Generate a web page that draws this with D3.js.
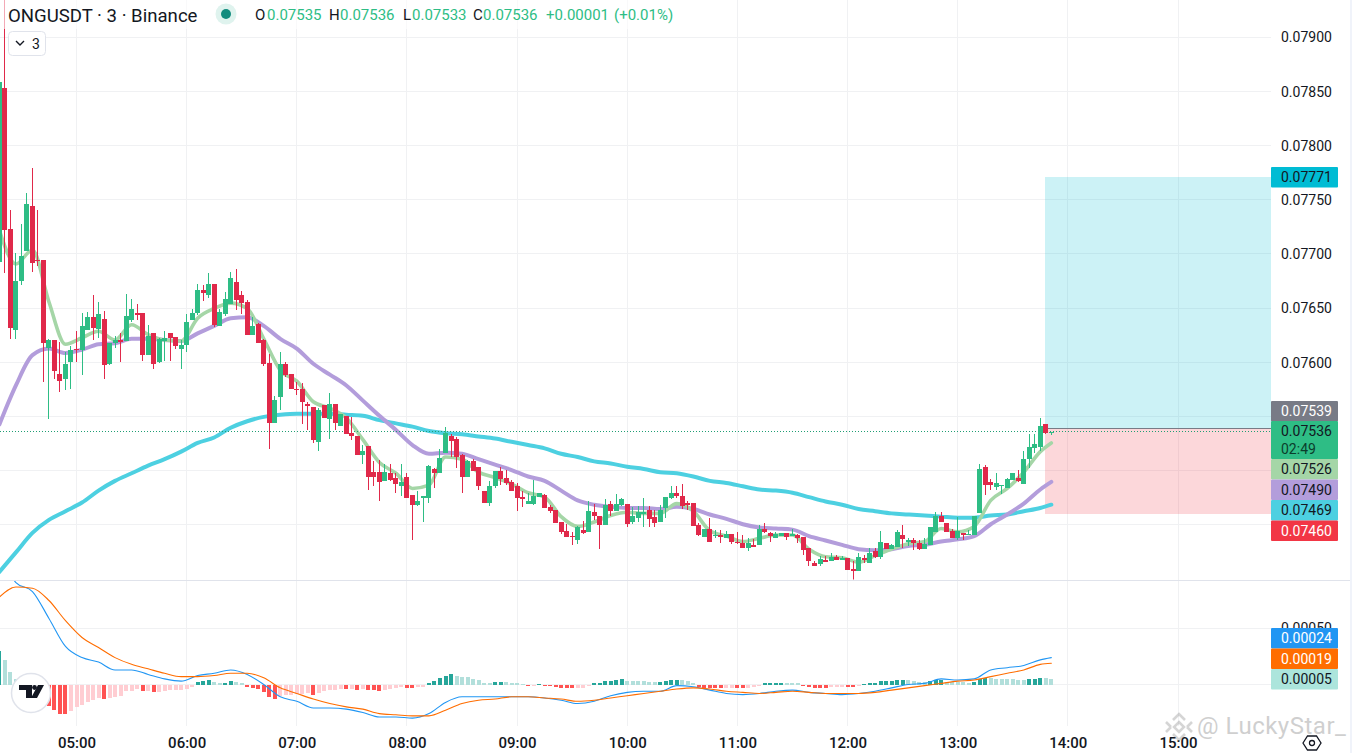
<!DOCTYPE html>
<html>
<head>
<meta charset="utf-8">
<title>ONGUSDT 3</title>
<script src="https://cdn.jsdelivr.net/npm/d3@7"></script>
<style>
  html, body { margin: 0; padding: 0; background: #fff; overflow: hidden; }
  svg { display: block; }
  text { font-family: Roboto, sans-serif; }
</style>
</head>
<body>
<svg id="chart" width="1352" height="753"></svg>
<script>
// all prices and macd values are in ticks of 0.00001
const tickSize = 0.00001;
const firstCandleMinute = 258; // 04:18
const candleMinutes = 3;

const opens = [
  7693,7853,7723,7630,7675,7703,7745,7695,7695,7614,
  7621,7590,7585,7601,7613,7612,7630,7642,7631,7640,
  7599,7618,7621,7620,7639,7646,7646,7607,7627,7601,
  7620,7627,7624,7613,7616,7639,7646,7667,7662,7673,
  7634,7645,7654,7674,7662,7656,7626,7636,7621,7600,
  7544,7568,7599,7590,7576,7576,7562,7559,7527,7561,7548,
  7562,7542,7551,7535,7532,7515,7523,7499,7499,7491,
  7498,7494,7486,7495,7478,7469,7475,7475,7502,7498,
  7517,7532,7530,7515,7495,7509,7504,7482,7471,7486,
  7500,7494,7490,7486,7476,7470,7470,7476,7478,7467,
  7464,7453,7445,7440,7436,7446,7444,7462,7459,7450,
  7470,7463,7469,7470,7453,7457,7460,7464,7458,
  7453,7466,7475,7480,7477,7471,7471,7450,7439,7447,
  7440,7441,7438,7442,7435,7434,7429,7432,7432,7447,
  7443,7438,7440,7443,7440,7441,7439,7429,7415,7414,
  7418,7417,7421,7418,7420,7410,7408,7420,7415,7426,
  7421,7434,7428,7430,7441,7435,7436,7434,7428,7432,
  7444,7459,7452,7445,7438,7443,7441,7441,7461,7504,
  7490,7485,7486,7484,7492,7494,7488,7511,7521,7522,7543,7535
];
const highs = [
  7859,7945,7741,7701,7728,7757,7780,7741,7695,7622,
  7621,7619,7610,7615,7629,7646,7647,7662,7656,7648,
  7618,7625,7627,7663,7659,7654,7646,7635,7627,7623,
  7629,7627,7624,7621,7645,7650,7673,7672,7683,7673,
  7650,7665,7684,7686,7666,7658,7642,7637,7622,7608,
  7569,7610,7601,7590,7582,7581,7564,7559,7558,7561,7572,
  7562,7553,7551,7550,7532,7524,7523,7509,7510,7507,
  7507,7498,7507,7498,7478,7482,7477,7506,7503,7520,
  7541,7534,7531,7516,7510,7511,7504,7482,7491,7500,
  7504,7501,7492,7489,7482,7480,7492,7480,7479,7469,
  7464,7453,7451,7444,7449,7454,7472,7470,7459,7474,
  7472,7479,7475,7470,7467,7468,7475,7468,7464,
  7469,7476,7486,7486,7488,7472,7471,7452,7447,7457,
  7446,7446,7445,7442,7444,7441,7438,7437,7450,7452,
  7444,7444,7443,7443,7447,7442,7439,7429,7417,7422,
  7422,7424,7423,7422,7420,7417,7424,7423,7429,7429,
  7445,7434,7433,7446,7450,7438,7438,7436,7438,7448,
  7462,7462,7452,7447,7458,7443,7446,7459,7507,7506,
  7493,7498,7487,7494,7498,7501,7519,7534,7534,7549,7543,7536
];
const lows = [
  7693,7683,7622,7622,7672,7703,7684,7689,7582,7548,
  7585,7573,7575,7576,7601,7589,7630,7621,7623,7585,
  7598,7614,7601,7620,7638,7639,7602,7607,7594,7600,
  7602,7602,7613,7594,7610,7639,7644,7657,7660,7633,
  7634,7643,7654,7649,7645,7626,7626,7618,7597,7520,
  7544,7556,7587,7576,7570,7543,7538,7526,7519,7549,7530,
  7538,7542,7534,7529,7515,7507,7483,7486,7472,7491,
  7491,7480,7477,7475,7436,7468,7453,7471,7484,7498,
  7517,7513,7503,7480,7495,7500,7483,7471,7468,7484,
  7487,7487,7482,7463,7467,7470,7469,7476,7466,7461,
  7452,7442,7439,7432,7433,7442,7444,7455,7428,7450,
  7459,7463,7468,7448,7451,7453,7448,7448,7448,
  7453,7457,7474,7475,7465,7464,7449,7440,7439,7435,
  7438,7434,7438,7433,7433,7429,7426,7430,7432,7443,
  7435,7438,7440,7436,7440,7434,7423,7412,7412,7412,
  7416,7417,7418,7418,7409,7400,7408,7415,7415,7420,
  7419,7428,7428,7430,7429,7431,7427,7427,7428,7432,
  7444,7453,7444,7438,7436,7436,7441,7441,7461,7478,
  7483,7483,7479,7484,7492,7490,7488,7503,7517,7519,7534,7533
];
const closes = [
  7859,7722,7632,7675,7698,7746,7692,7694,7618,7621,
  7592,7583,7599,7612,7612,7634,7642,7632,7645,7598,
  7618,7621,7619,7643,7650,7644,7607,7625,7599,7622,
  7623,7623,7615,7616,7638,7646,7667,7664,7673,7635,
  7647,7659,7678,7658,7655,7626,7634,7618,7599,7544,
  7566,7599,7589,7576,7575,7564,7560,7529,7556,7549,7562,
  7544,7553,7534,7532,7515,7519,7495,7495,7490,7499,
  7492,7488,7490,7475,7469,7472,7477,7505,7498,7512,
  7535,7528,7513,7495,7509,7500,7486,7471,7486,7500,
  7493,7489,7482,7475,7474,7472,7477,7480,7466,7463,
  7452,7444,7439,7439,7448,7443,7463,7459,7450,7469,
  7463,7470,7474,7451,7459,7462,7462,7456,7452,
  7464,7476,7480,7477,7468,7469,7449,7441,7447,7435,
  7441,7439,7442,7435,7434,7429,7434,7430,7447,7444,
  7440,7442,7443,7439,7442,7438,7427,7417,7412,7419,
  7416,7421,7418,7420,7409,7408,7421,7418,7424,7421,
  7435,7428,7432,7444,7437,7436,7434,7428,7433,7448,
  7459,7453,7444,7438,7445,7441,7442,7459,7502,7487,
  7487,7489,7487,7493,7498,7491,7511,7522,7525,7542,7535,7536
];

const lineCandles = d3.range(0, 191, 3).concat(191);
const emaFast = [
  7722,7691,7704,7656,7617,7623,7629,7621,7635,7626,7621,7620,7641,7650,7655,7650,7622,7593,7583,7564,7558,
  7549,7529,7508,7498,7484,7487,7513,7511,7499,7494,7488,7480,7476,7458,7449,7453,7459,7462,7461,7461,
  7470,7463,7445,7440,7435,7438,7441,7441,7428,7421,7420,7416,7422,7428,7433,7435,7447,7444,7449,7473,7484,7499,7518,7526
];
const emaMid = [
  7543,7579,7607,7613,7609,7612,7617,7618,7622,7622,7621,7620,7627,7634,7641,7642,7634,7622,7613,7599,7589,
  7579,7565,7551,7538,7524,7516,7517,7516,7511,7506,7501,7495,7491,7482,7473,7469,7467,7466,7466,7465,
  7467,7465,7460,7456,7451,7448,7447,7446,7440,7436,7432,7428,7427,7428,7431,7432,7435,7437,7440,7451,7460,7470,7483,7490
];
const emaSlow = [
  7407,7425,7443,7455,7463,7471,7482,7491,7498,7505,7511,7518,7526,7531,7540,7546,7550,7552,7553,7553,7553,
  7552,7551,7547,7544,7541,7537,7535,7534,7532,7530,7527,7524,7521,7516,7513,7509,7507,7504,7502,7499,
  7498,7495,7491,7489,7486,7483,7482,7480,7476,7472,7469,7465,7463,7461,7460,7459,7458,7457,7457,7459,7460,7463,7466,7469
];
const macdLine = [
  120,91,83,59,34,24,20,13,13,9,5,3,8,10,13,9,0,-11,-15,-21,-21,-22,-25,-29,-29,-30,-26,-16,
  -11,-11,-11,-11,-11,-12,-14,-17,-15,-10,-7,-6,-6,-1,-2,-5,-8,-9,-8,-6,-5,-7,-8,-9,-8,-6,-3,0,1,5,4,5,13,15,17,22,24
];
const signalLine = [
  78,87,86,75,57,42,33,24,18,14,10,7,7,8,10,10,6,-3,-8,-13,-17,-20,-22,-26,-27,-28,-28,-23,
  -17,-14,-13,-11,-11,-12,-13,-15,-14,-12,-10,-8,-6,-4,-3,-4,-6,-7,-8,-7,-6,-7,-8,-8,-8,-7,-5,-3,-1,1,3,4,7,10,13,18,19
];
const macdHist = [
  30,22,11,5,2,-1,-5,-9,-14,-19,-23,-26,-26.5,-24,
  -20,-18,-16,-14,-12,-13,-12,-11,-10,-6,
  -5.5,-4,-6,-5.5,-7,-6.5,-6,-5,-4.8,-4.6,
  -4,-2,2,3,4,2,1,1.5,3,2,
  1,-2,-3,-4,-7,-11,-13,-10,-9.5,-9,
  -8.6,-8.3,-8,-9,-8,-6,-5.2,-5,-3.8,-4.2,
  -4,-4.6,-4.3,-5.2,-5.3,-5.4,-4.5,-4,-3.2,-2.5,
  -2.8,-3,-2.2,-1.8,1.5,3,6,8,9,8,
  7,6.8,5,4,1.2,1,2,2.2,2,1.2,
  1,0.3,-0.5,-0.3,0.5,-0.5,-1,-2,-3,-3.2,
  -3.4,-3.2,-2.8,-0.5,1,1.2,3,3.2,4,5,
  3,2.9,2.8,2.7,2.2,2,2.3,3,4,4.2,
  4,3,1.2,-2,-3,-3.2,-3.3,-3.4,-3.2,-3,
  -3.1,-3.2,-3,-2.4,-1,1,1.1,1.2,1.3,1.2,
  1.1,0.9,-0.5,-2,-3,-3.1,-3.2,-2,-1.9,-1.8,
  -2,-2.1,-1,0.5,1,1.1,3,3.1,3.2,4,
  4.1,4,3,2.2,2,3,4,4.2,2.5,2.4,
  2.3,2.2,1,2,5,6,5.8,5.2,5.1,5,
  4.9,4.2,4.1,5,5.1,6,5.8,5
];

const hourTicks = [300, 360, 420, 480, 540, 600, 660, 720, 780, 840, 900];
const priceTicks = [7900, 7850, 7800, 7750, 7700, 7650, 7600, 7550, 7500, 7450];
const priceTickLabels = [7900, 7850, 7800, 7750, 7700, 7650, 7600]; // the lower ones sit under the tags
const macdTicks = [50, 0];

const targetPrice = 7771;
const entryPrice = 7539;
const stopPrice = 7460;
const positionStart = 828; // 13:48

const legendItems = [
  ["O", "0.07535", 255, 267],
  ["H", "0.07536", 329, 340],
  ["L", "0.07533", 403, 412],
  ["C", "0.07536", 473, 483]
];
const priceLabels = [
  ["0.07771", 7771, "#00bcd4", "#131722"],
  ["0.07539", 7539, "#787b86", "#fff"],
  ["0.07526", 7526, "#a5d6a7", "#131722"],
  ["0.07490", 7490, "#b39ddb", "#131722"],
  ["0.07469", 7469, "#4dd0e1", "#131722"],
  ["0.07460", 7460, "#f23645", "#fff"]
];
const macdLabels = [
  ["0.00024", "#2196f3", "#fff"],
  ["0.00019", "#ff6d00", "#fff"],
  ["0.00005", "#ace5dc", "#131722"]
];

const svg = d3.select("#chart");
const width = 1352;
const plotRight = 1271;
const paneBottom = 579.5;
const timeBottom = 726;
const upColor = "#2ebd85";
const downColor = "#e0294a";

const x = d3.scaleLinear().domain([300, 900]).range([76.5, 1178]);
const y = d3.scaleLinear().domain([7900, 7450]).range([37.5, 525.3]);
const yMacd = d3.scaleLinear().domain([50, 0]).range([628.5, 684.5]);

const candleMinute = i => firstCandleMinute + i * candleMinutes;
const candleX = i => x(candleMinute(i));

const defs = svg.append("defs");
defs.append("clipPath").attr("id", "priceClip")
  .append("rect").attr("width", plotRight).attr("height", paneBottom);
defs.append("clipPath").attr("id", "macdClip")
  .append("rect").attr("y", paneBottom + 1).attr("width", plotRight).attr("height", timeBottom - paneBottom - 1);

function drawGrid() {
  const grid = svg.append("g").attr("stroke", "#f0f1f3").attr("stroke-width", 1).attr("shape-rendering", "crispEdges");
  grid.selectAll(".v").data(hourTicks).join("line")
    .attr("x1", d => Math.floor(x(d)) + 0.5).attr("x2", d => Math.floor(x(d)) + 0.5)
    .attr("y1", 0).attr("y2", timeBottom);
  grid.selectAll(".h").data(priceTicks).join("line")
    .attr("x1", 0).attr("x2", plotRight)
    .attr("y1", d => Math.round(y(d)) - 0.5).attr("y2", d => Math.round(y(d)) - 0.5);
  grid.selectAll(".m").data(macdTicks).join("line")
    .attr("x1", 0).attr("x2", plotRight)
    .attr("y1", d => Math.floor(yMacd(d)) + 0.5).attr("y2", d => Math.floor(yMacd(d)) + 0.5);
}

function drawPosition() {
  const g = svg.append("g").attr("shape-rendering", "crispEdges");
  const left = Math.floor(x(positionStart));
  g.append("rect").attr("x", left).attr("width", plotRight - left)
    .attr("y", y(targetPrice)).attr("height", y(entryPrice) - y(targetPrice))
    .attr("fill", "rgba(0,188,212,0.2)");
  g.append("rect").attr("x", left).attr("width", plotRight - left)
    .attr("y", y(entryPrice)).attr("height", y(stopPrice) - y(entryPrice))
    .attr("fill", "rgba(242,54,69,0.2)");
  g.append("line").attr("x1", left).attr("x2", plotRight)
    .attr("y1", y(entryPrice)).attr("y2", y(entryPrice))
    .attr("stroke", "#787b86").attr("stroke-width", 1);
}

function drawLine(layer, values, scale, color, lineWidth, curve) {
  const line = d3.line()
    .x((d, i) => candleX(lineCandles[i]))
    .y(d => scale(d))
    .curve(curve);
  layer.append("path").attr("d", line(values))
    .attr("fill", "none").attr("stroke", color)
    .attr("stroke-width", lineWidth).attr("stroke-linecap", "round").attr("stroke-linejoin", "round");
}

function drawCandles() {
  const g = svg.append("g").attr("clip-path", "url(#priceClip)");
  drawLine(g, emaSlow, y, "#4dd0e1", 4, d3.curveMonotoneX);
  drawLine(g, emaMid, y, "#b39ddb", 4, d3.curveMonotoneX);
  drawLine(g, emaFast, y, "#a5d6a7", 3.6, d3.curveMonotoneX);

  // current price line
  const lastY = Math.floor(y(closes[closes.length - 1])) - 0.5;
  g.append("line").attr("x1", 0).attr("x2", plotRight)
    .attr("y1", lastY).attr("y2", lastY)
    .attr("stroke", "#1f9e74").attr("stroke-width", 1).attr("stroke-dasharray", "1 2")
    .attr("shape-rendering", "crispEdges");

  const candles = g.append("g").attr("shape-rendering", "crispEdges");
  const color = i => closes[i] >= opens[i] ? upColor : downColor;
  const idx = d3.range(opens.length);
  candles.selectAll(".wick").data(idx).join("line")
    .attr("x1", i => Math.round(candleX(i) - 2.5) + 2.5).attr("x2", i => Math.round(candleX(i) - 2.5) + 2.5)
    .attr("y1", i => y(highs[i])).attr("y2", i => y(lows[i]))
    .attr("stroke", color).attr("stroke-width", 1);
  candles.selectAll(".body").data(idx).join("rect")
    .attr("x", i => Math.round(candleX(i) - 2.5)).attr("width", 5)
    .attr("y", i => y(Math.max(opens[i], closes[i])))
    .attr("height", i => Math.max(1, Math.abs(y(opens[i]) - y(closes[i]))))
    .attr("fill", color);
}

function drawMacd() {
  const g = svg.append("g").attr("clip-path", "url(#macdClip)");
  const idx = d3.range(macdHist.length);
  const histColor = i => {
    const v = macdHist[i];
    const rising = i === 0 || v > macdHist[i - 1];
    if (v >= 0) return rising ? "#26a69a" : "#b2dfdb";
    return rising ? "#ffcdd2" : "#ff5252";
  };
  g.append("g").attr("shape-rendering", "crispEdges")
    .selectAll("rect").data(idx).join("rect")
    .attr("x", i => Math.round(candleX(i) - 2)).attr("width", 4)
    .attr("y", i => Math.min(yMacd(macdHist[i]), yMacd(0)))
    .attr("height", i => Math.max(1, Math.abs(yMacd(macdHist[i]) - yMacd(0))))
    .attr("fill", histColor);
  drawLine(g, macdLine, yMacd, "#2196f3", 1.1, d3.curveMonotoneX);
  drawLine(g, signalLine, yMacd, "#ff6d00", 1.1, d3.curveMonotoneX);
}

function drawAxes() {
  svg.append("line").attr("x1", 0).attr("x2", width - 2)
    .attr("y1", paneBottom + 0.5).attr("y2", paneBottom + 0.5)
    .attr("stroke", "#e0e3eb").attr("shape-rendering", "crispEdges");
  svg.append("rect").attr("x", width - 2).attr("width", 2).attr("height", 753).attr("fill", "#f0f3fa");

  const fmtTime = m => d3.format("02")(Math.floor(m / 60)) + ":" + d3.format("02")(m % 60);
  const xAxis = svg.append("g").attr("transform", "translate(0,743)")
    .call(d3.axisBottom(x).tickValues(hourTicks).tickSize(0).tickPadding(0).tickFormat(fmtTime));
  xAxis.select(".domain").remove();
  xAxis.selectAll("text").attr("dy", "0.35em").attr("y", 0)
    .attr("font-size", 15).attr("font-weight", 500).attr("fill", "#131722")
    .style("font-family", "Roboto, sans-serif");

  const yAxis = svg.append("g").attr("transform", "translate(1281,0)")
    .call(d3.axisRight(y).tickValues(priceTickLabels).tickSize(0).tickPadding(0).tickFormat(d => (d * tickSize).toFixed(5)));
  yAxis.select(".domain").remove();
  yAxis.selectAll("text").attr("font-size", 14).attr("fill", "#131722")
    .style("font-family", "Roboto, sans-serif");

  const mAxis = svg.append("g").attr("transform", "translate(1281,0)")
    .call(d3.axisRight(yMacd).tickValues([50]).tickSize(0).tickPadding(0).tickFormat(d => (d * tickSize).toFixed(5)));
  mAxis.select(".domain").remove();
  mAxis.selectAll("text").attr("font-size", 14).attr("fill", "#131722")
    .style("font-family", "Roboto, sans-serif");
}

function priceTag(top, h, bg, fg, label, sub) {
  svg.append("rect").attr("x", plotRight).attr("y", top).attr("width", 67).attr("height", h)
    .attr("rx", 1).attr("fill", bg);
  svg.append("text").attr("x", 1281).attr("y", top + 10).attr("dy", "0.36em")
    .attr("font-size", 14).attr("fill", fg).text(label);
  if (sub) {
    svg.append("text").attr("x", 1281).attr("y", top + 28).attr("dy", "0.36em")
      .attr("font-size", 14).attr("fill", "#0b3d2c").text(sub);
  }
}

function drawTags() {
  priceLabels.slice(0, 2).forEach(d => priceTag(Math.round(y(d[1])) - (d[1] === 7539 ? 28 : 10), 20.5, d[2], d[3], d[0]));
  priceTag(421, 38, upColor, "#131722", "0.07536", "02:49");
  priceLabels.slice(2).forEach((d, i) => priceTag(459 + i * 20.5, 20.5, d[2], d[3], d[0]));
  macdLabels.forEach((d, i) => priceTag(628 + i * 20.5, 20.5, d[1], d[2], d[0]));
}

function drawLegend() {
  svg.append("rect").attr("width", 680).attr("height", 29).attr("fill", "#fff").attr("fill-opacity", 0.6);
  svg.append("text").attr("x", 8).attr("y", 15).attr("dy", "0.36em")
    .attr("font-size", 18.6).attr("fill", "#131722").text("ONGUSDT · 3 · Binance");
  svg.append("circle").attr("cx", 226).attr("cy", 14).attr("r", 10.5).attr("fill", "#dff3ee");
  svg.append("circle").attr("cx", 226).attr("cy", 14).attr("r", 5).attr("fill", "#128c7e");
  legendItems.forEach(d => {
    svg.append("text").attr("x", d[2]).attr("y", 15).attr("dy", "0.36em")
      .attr("font-size", 15).attr("fill", "#131722").text(d[0]);
    svg.append("text").attr("x", d[3]).attr("y", 15).attr("dy", "0.36em")
      .attr("font-size", 15).attr("fill", upColor).text(d[1]);
  });
  svg.append("text").attr("x", 546).attr("y", 15).attr("dy", "0.36em")
    .attr("font-size", 15).attr("fill", upColor).text("+0.00001");
  svg.append("text").attr("x", 614).attr("y", 15).attr("dy", "0.36em")
    .attr("font-size", 15).attr("fill", upColor).text("(+0.01%)");

  // interval button
  svg.append("rect").attr("x", 8.5).attr("y", 31.5).attr("width", 37).attr("height", 24)
    .attr("rx", 4).attr("fill", "#fff").attr("stroke", "#e0e3eb");
  svg.append("path").attr("d", "M16,41 L20,45 L24,41").attr("fill", "none")
    .attr("stroke", "#131722").attr("stroke-width", 1.4);
  svg.append("text").attr("x", 32).attr("y", 44).attr("dy", "0.36em")
    .attr("font-size", 14).attr("fill", "#131722").text("3");
}

function drawLogos() {
  // tradingview badge
  const tv = svg.append("g").attr("transform", "translate(31,693)");
  tv.append("circle").attr("r", 19.5).attr("fill", "#fff").attr("stroke", "#e0e3eb").attr("stroke-width", 1.5);
  tv.append("path").attr("fill", "#131722")
    .attr("d", "M-12,-8 H1 V5 H-5 V-3 H-12 Z M13,-8 L6,5 H0 L7,-8 Z");
  tv.append("circle").attr("cx", 3.5).attr("cy", -5.5).attr("r", 2.4).attr("fill", "#131722");

  // watermark
  const mark = svg.append("g").attr("opacity", 0.35);
  const diamond = mark.append("g").attr("transform", "translate(1179,727)")
    .attr("fill", "none").attr("stroke", "#8a8a8a").attr("stroke-width", 2.6);
  diamond.append("path").attr("d", "M-6,-7 L0,-13 L6,-7");
  diamond.append("path").attr("d", "M-6,7 L0,13 L6,7");
  diamond.append("path").attr("d", "M-8,0 L-13,-5 M-8,0 L-13,5 M8,0 L13,-5 M8,0 L13,5");
  diamond.append("rect").attr("x", -3.5).attr("y", -3.5).attr("width", 7).attr("height", 7)
    .attr("transform", "rotate(45)");
  mark.append("text").attr("x", 1197).attr("y", 734).attr("font-size", 24).attr("letter-spacing", 0.5)
    .attr("fill", "#777").text("@ LuckyStar_");

  // settings hexagon
  const gear = svg.append("g").attr("transform", "translate(1312,743)")
    .attr("fill", "none").attr("stroke", "#131722").attr("stroke-width", 1.3);
  gear.append("path").attr("d", "M-9,0 L-4.5,-7 H4.5 L9,0 L4.5,7 H-4.5 Z");
  gear.append("circle").attr("r", 2.5);
}

drawGrid();
drawPosition();
drawCandles();
drawMacd();
drawAxes();
drawTags();
drawLegend();
drawLogos();
</script>
</body>
</html>
